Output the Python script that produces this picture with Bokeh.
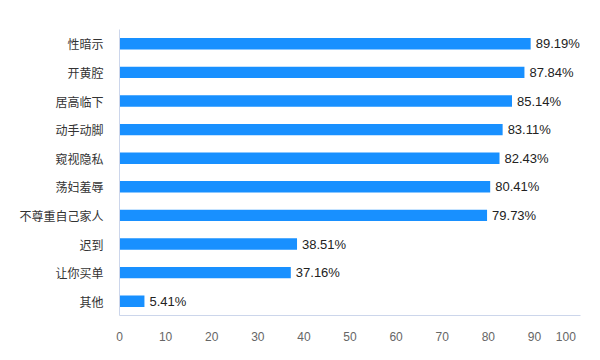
from bokeh.plotting import figure
from bokeh.models import ColumnDataSource, FactorRange, Range1d, FixedTicker
from bokeh.core.properties import value
from bokeh.embed import file_html
from bokeh.resources import INLINE

categories = ["性暗示", "开黄腔", "居高临下", "动手动脚", "窥视隐私", "荡妇羞辱", "不尊重自己家人", "迟到", "让你买单", "其他"]
values = [89.19, 87.84, 85.14, 83.11, 82.43, 80.41, 79.73, 38.51, 37.16, 5.41]
labels = ["%.2f%%" % v for v in values]
x_ticks = [0, 10, 20, 30, 40, 50, 60, 70, 80, 90, 100]

src = ColumnDataSource(dict(cat=categories, val=values, lab=labels))

p = figure(width=592, height=352, output_backend="svg", toolbar_location=None,
           y_range=FactorRange(factors=list(reversed(categories))),
           x_range=Range1d(0, x_ticks[-1]),
           min_border_left=119, min_border_right=12, min_border_top=29, min_border_bottom=37)
p.outline_line_color = None
p.background_fill_color = "white"
p.border_fill_color = "white"

p.hbar(y="cat", right="val", left=0, height=0.4, source=src, color="#1890FF", line_color=None)
p.text(x="val", y="cat", text="lab", source=src, x_offset=5, text_baseline="middle",
       text_align="left", text_font_size="13px", text_color="#222222",
       text_font=value("Liberation Sans"))

p.xgrid.visible = False
p.ygrid.visible = False

p.xaxis.ticker = FixedTicker(ticks=x_ticks)
# last tick label sits flush with the axis end in the reference: pad it so it shifts left
p.xaxis.major_label_overrides = {x_ticks[-1]: str(x_ticks[-1]) + "\u00a0" * 5}
p.xaxis.major_tick_line_color = None
p.xaxis.minor_tick_line_color = None
p.xaxis.axis_line_color = "#CCD6EB"
p.xaxis.major_label_text_color = "#666666"
p.xaxis.major_label_text_font_size = "12px"
p.xaxis.major_label_text_font = "Liberation Sans"
p.xaxis.major_label_standoff = 8

p.yaxis.major_tick_line_color = None
p.yaxis.minor_tick_line_color = None
p.yaxis.axis_line_color = "#CCD6EB"
p.yaxis.major_label_text_color = "#333333"
p.yaxis.major_label_text_font_size = "12px"
p.yaxis.major_label_text_font = "Noto Sans CJK SC"
p.yaxis.major_label_standoff = 10

open("out.html", "w").write(file_html(p, INLINE))
